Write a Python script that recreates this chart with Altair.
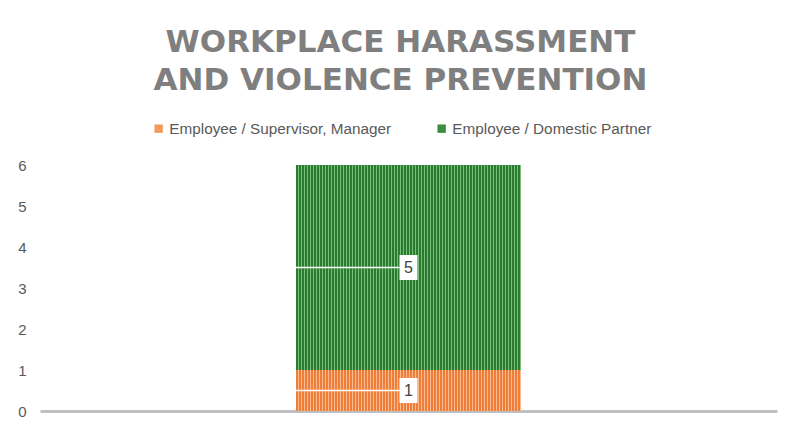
import altair as alt
import pandas as pd

# ---- data ----
categories = ["Workplace"]
series = ["Employee / Supervisor, Manager", "Employee / Domestic Partner"]
values = [1, 5]
order = [0, 1]

df = pd.DataFrame({
    "category": categories * len(series),
    "series": series,
    "value": values,
    "order": order,
})

# ---- styles ----
def stripes(dark, light, n=75, frac=0.6):
    stops = []
    for i in range(n):
        a, m, b = i / n, (i + frac) / n, (i + 1) / n
        stops += [
            {"offset": a, "color": dark},
            {"offset": m, "color": dark},
            {"offset": m, "color": light},
            {"offset": b, "color": light},
        ]
    return alt.LinearGradient(gradient="linear", stops=stops, x1=0, x2=1, y1=0, y2=0)

orange_solid = "#F19A5E"
green_solid = "#3A8E3E"
orange_grad = stripes("#EE7E3A", "#F8BB92", frac=0.55)
green_grad = stripes("#2A7B2F", "#78BE7B", frac=0.6)

W, H = 737, 246

base = alt.Chart(df).transform_stack(
    stack="value", groupby=["category"], as_=["y0", "y1"],
    sort=[alt.SortField("order", order="ascending")]
).transform_calculate(mid="(datum.y0 + datum.y1) / 2")

x_enc = alt.X("category:N",
              scale=alt.Scale(paddingInner=0.12109375, paddingOuter=1),
              axis=alt.Axis(title=None, labels=False, ticks=False,
                            domain=True, domainColor="#BFBFBF", domainWidth=3,
                            grid=False))
y_scale = alt.Scale(domain=[0, 6], nice=False)

legend_layer = base.mark_bar().encode(
    x=x_enc,
    y=alt.Y("y0:Q", scale=y_scale,
            axis=alt.Axis(title=None, values=[0, 1, 2, 3, 4, 5, 6], ticks=False,
                          domain=False, grid=False, labelFontSize=15,
                          labelColor="#595959", labelPadding=14,
                          labelFont="Liberation Sans")),
    y2="y1:Q",
    color=alt.Color("series:N",
                    scale=alt.Scale(domain=series, range=[orange_solid, green_solid]),
                    legend=alt.Legend(title=None, orient="none", direction="horizontal",
                                      legendX=111, legendY=-44, padding=0,
                                      symbolType="square", symbolSize=70,
                                      labelOffset=3,
                                      labelFontSize=15.3, labelColor="#595959",
                                      labelFont="Liberation Sans", labelLimit=400,
                                      columnPadding=42, symbolStrokeWidth=0)),
)

stripe_layer = base.mark_bar().encode(
    x=alt.X("category:N"),
    y=alt.Y("y0:Q"),
    y2="y1:Q",
    color=alt.condition(alt.datum.series == series[0],
                        alt.value(orange_grad), alt.value(green_grad)),
)

leader_layer = base.mark_rule(color="white", strokeWidth=1.5).encode(
    x=alt.X("category:N", bandPosition=0),
    x2=alt.X2("category:N", bandPosition=0.46),
    y=alt.Y("mid:Q"),
)

box_layer = base.mark_point(
    shape="M-0.72,-1 L0.72,-1 L0.72,1 L-0.72,1 Z",
    filled=True, opacity=1, size=625, color="white", strokeWidth=0
).encode(x=alt.X("category:N"), y=alt.Y("mid:Q"))

text_layer = base.mark_text(fontSize=16, color="#404040", font="Liberation Sans",
                            baseline="middle").encode(
    x=alt.X("category:N"), y=alt.Y("mid:Q"), text=alt.Text("value:Q"))

chart = alt.layer(legend_layer, stripe_layer, leader_layer, box_layer, text_layer).properties(
    width=W, height=H,
    autosize=alt.AutoSizeParams(type="none"),
    padding={"left": 32, "top": 157, "right": 26, "bottom": 20},
    title=alt.TitleParams(
        text=["WORKPLACE HARASSMENT", "AND VIOLENCE PREVENTION"],
        font="DejaVu Sans", fontSize=31, fontWeight="bold", color="#7F7F7F",
        anchor="middle", lineHeight=38, offset=24, dx=-8,
    ),
).configure_view(stroke=None)

chart.save("out.html", embed_options={"renderer": "svg", "actions": False})
